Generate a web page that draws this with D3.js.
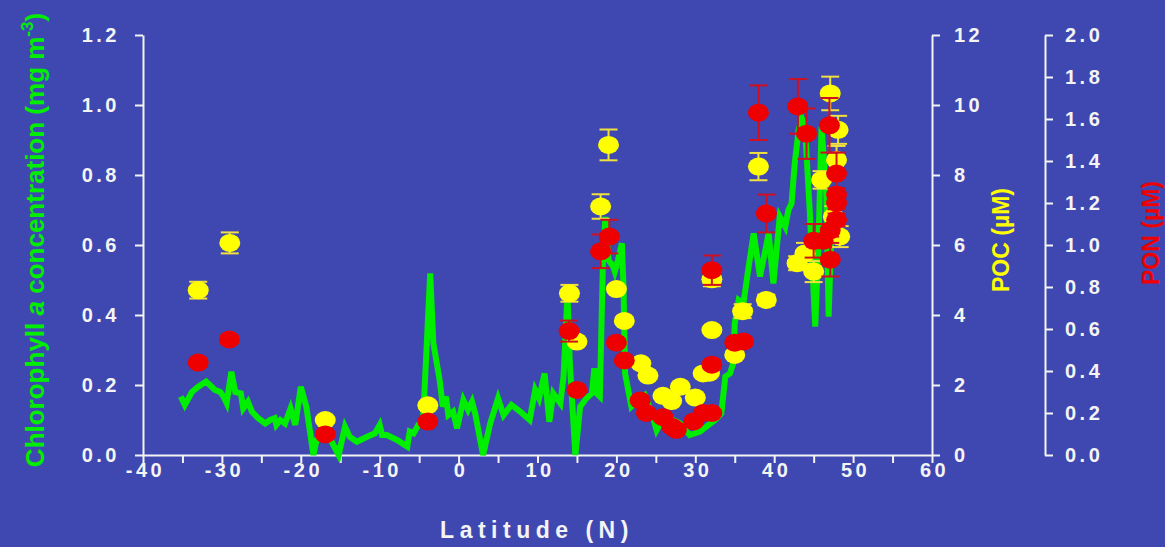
<!DOCTYPE html>
<html>
<head>
<meta charset="utf-8">
<script src="https://cdn.jsdelivr.net/npm/d3@7"></script>
<style>
  body { margin: 0; background: #3f48b0; }
  svg text { font-family: "Liberation Sans", Arial, sans-serif; font-weight: bold; }
</style>
</head>
<body>
<div class="chart"></div>
<script>
// chlorophyll a along the transect
const chlLat = [-35.2, -34.7, -33.8, -33.0, -32.0, -31.3, -30.9, -30.2, -29.8, -29.4, -28.8, -28.3, -27.6, -27.3, -26.7, -26.2,
  -25.4, -24.5, -23.9, -23.3, -23.1, -22.6, -22.0, -21.3, -20.7, -20.0, -19.3, -18.4, -18.0, -17.4, -16.6, -15.2, -14.4, -13.8,
  -12.9, -11.6, -10.6, -10.0, -9.7, -9.1, -7.8, -6.5, -6.2, -5.7, -5.1, -4.5, -3.6, -3.2, -2.4, -2.0, -1.6, -1.3, -0.7, -0.2,
  0.6, 1.2, 1.7, 2.1, 3.1, 4.0, 5.0, 5.7, 6.7, 7.8, 9.0, 9.7, 10.2, 10.9, 11.5, 12.0, 12.9, 13.3, 13.8, 14.1, 14.8, 15.4,
  16.2, 16.9, 17.2, 17.5, 17.9, 18.3, 18.6, 19.0, 19.6, 19.8, 20.2, 20.7, 20.9, 21.1, 21.9, 22.8, 23.6, 24.5, 25.1, 25.7,
  27.2, 28.1, 29.3, 30.6, 31.4, 32.5, 33.3, 33.8, 34.4, 34.8, 35.0, 35.5, 36.1, 36.7, 37.4, 38.2, 39.3, 39.9, 40.7, 41.4,
  41.8, 42.2, 42.6, 43.1, 43.5, 43.9, 44.5, 45.2, 45.6, 46.0, 46.6, 46.9, 47.3];
const chlVal = [0.167, 0.143, 0.18, 0.195, 0.21, 0.195, 0.186, 0.18, 0.167, 0.148, 0.238, 0.18, 0.176, 0.133, 0.152, 0.124,
  0.105, 0.09, 0.10, 0.105, 0.086, 0.10, 0.09, 0.133, 0.086, 0.195, 0.138, 0.0, 0.043, 0.07, 0.06, 0.0, 0.081, 0.052,
  0.038, 0.052, 0.062, 0.086, 0.057, 0.057, 0.043, 0.024, 0.067, 0.062, 0.086, 0.10, 0.519, 0.319, 0.214, 0.138, 0.167, 0.114, 0.124, 0.076,
  0.157, 0.129, 0.152, 0.119, 0.0, 0.09, 0.162, 0.114, 0.143, 0.124, 0.10, 0.186, 0.162, 0.233, 0.095, 0.176, 0.148, 0.224, 0.46, 0.262, 0.0, 0.138,
  0.162, 0.176, 0.248, 0.176, 0.167, 0.557, 0.68, 0.557, 0.538, 0.524, 0.557, 0.605, 0.48, 0.233, 0.138, 0.157, 0.171, 0.119, 0.071, 0.095,
  0.10, 0.09, 0.057, 0.067, 0.081, 0.10, 0.119, 0.224, 0.233, 0.262, 0.376, 0.443, 0.433, 0.529, 0.633, 0.51, 0.633, 0.49, 0.681, 0.652,
  0.70, 0.719, 0.833, 0.929, 0.962, 0.938, 0.70, 0.367, 0.595, 0.938, 0.748, 0.395, 0.671];

// POC (uM) with error
const pocLat = [-33.0, -29.0, -16.9, -3.9, 14.05, 15.0, 19.0, 18.0, 20.0, 21.0, 23.1, 24.0, 25.9, 27.0, 28.1, 30.0, 31.0, 31.8,
  32.1, 32.1, 36.0, 35.0, 39.0, 38.0, 47.1, 48.1, 46.0, 42.9, 43.9, 45.0, 48.3, 47.9, 47.5];
const pocVal = [4.71, 6.06, 1.0, 1.42, 4.62, 3.24, 8.86, 7.1, 4.74, 3.83, 2.62, 2.27, 1.69, 1.54, 1.95, 1.64, 2.33, 2.35,
  3.57, 5.02, 4.11, 2.86, 4.43, 8.24, 10.33, 9.29, 7.86, 5.48, 5.76, 5.24, 6.24, 8.43, 6.81];
const pocErr = [0.24, 0.3, 0, 0, 0.24, 0.1, 0.44, 0.35, 0.1, 0.1, 0, 0, 0, 0, 0, 0, 0, 0,
  0.1, 0.2, 0.2, 0.1, 0.15, 0.39, 0.48, 0.4, 0.25, 0.2, 0.3, 0.3, 0.3, 0.4, 0.3];

// PON (uM) with error
const ponLat = [-33.0, -29.05, -16.9, -3.9, 14.0, 15.0, 19.1, 18.0, 20.0, 21.0, 23.0, 23.8, 25.9, 27.0, 27.6, 29.8, 31.0,
  32.1, 32.1, 32.1, 35.0, 36.1, 38.0, 39.0, 43.0, 44.1, 47.0, 47.9, 47.9, 47.9, 47.9, 47.1, 45.0, 46.2, 47.1];
const ponVal = [0.44, 0.55, 0.098, 0.159, 0.59, 0.31, 1.04, 0.97, 0.535, 0.45, 0.26, 0.2, 0.18, 0.135, 0.12, 0.16, 0.2,
  0.2, 0.43, 0.88, 0.535, 0.54, 1.63, 1.15, 1.66, 1.53, 1.57, 1.34, 1.24, 1.2, 1.12, 1.07, 1.02, 1.02, 0.93];
const ponErr = [0.02, 0.02, 0, 0, 0.05, 0, 0.08, 0.08, 0, 0, 0, 0, 0, 0, 0, 0, 0,
  0, 0.02, 0.07, 0.02, 0.02, 0.13, 0.09, 0.13, 0.12, 0.13, 0.1, 0.03, 0.03, 0.03, 0.03, 0.08, 0.03, 0.08];

const xTicks = [-40, -30, -20, -10, 0, 10, 20, 30, 40, 50, 60];

const width = 1165, height = 547;
const bg = "#3f48b0", green = "#00ee00", yellow = "#ffff00", red = "#ee0000", ink = "#f4f4f4";

const svg = d3.select(".chart").append("svg")
  .attr("width", width)
  .attr("height", height);

svg.append("rect").attr("width", width).attr("height", height).attr("fill", bg);

const x = d3.scaleLinear().domain([-40, 60]).range([143, 932]);
const yChl = d3.scaleLinear().domain([0, 1.2]).range([455, 35]);
const yPoc = d3.scaleLinear().domain([0, 12]).range([455, 35]);
const yPon = d3.scaleLinear().domain([0, 2]).range([455, 35]);

const styleAxis = g => {
  g.select(".domain").attr("stroke", ink).attr("stroke-width", 2);
  g.selectAll(".tick line").attr("stroke", ink).attr("stroke-width", 2);
  g.selectAll(".tick text")
    .attr("fill", ink)
    .style("font-size", "20px")
    .style("letter-spacing", "3.5px");
};

// x axis
const gx = svg.append("g")
  .attr("transform", "translate(0,455)")
  .call(d3.axisBottom(x).tickValues(d3.range(-40, 61, 5)).tickSize(8).tickSizeOuter(0)
    .tickFormat(d => xTicks.includes(d) ? d : ""));
styleAxis(gx);
gx.selectAll(".tick text").attr("y", 8).attr("dy", "0.71em").attr("dx", "2px");

// left axis
const gl = svg.append("g")
  .attr("transform", "translate(143,0)")
  .call(d3.axisLeft(yChl).tickValues(d3.range(0, 1.21, 0.2)).tickSize(8).tickSizeOuter(0)
    .tickFormat(d3.format(".1f")));
styleAxis(gl);
gl.selectAll(".tick text").attr("x", -23);

// POC axis
const gp = svg.append("g")
  .attr("transform", "translate(932,0)")
  .call(d3.axisRight(yPoc).tickValues(d3.range(0, 13, 2)).tickSize(8).tickSizeOuter(0));
styleAxis(gp);
gp.selectAll(".tick text").attr("x", 22);

// PON axis
const gn = svg.append("g")
  .attr("transform", "translate(1045,0)")
  .call(d3.axisRight(yPon).tickValues(d3.range(0, 2.01, 0.2)).tickSize(8).tickSizeOuter(0)
    .tickFormat(d3.format(".1f")));
styleAxis(gn);
gn.selectAll(".tick text").attr("x", 20);

// chlorophyll line
const chl = chlLat.map((d, i) => ({ lat: d, v: chlVal[i] }));
svg.append("path")
  .datum(chl)
  .attr("fill", "none")
  .attr("stroke", green)
  .attr("stroke-width", 6)
  .attr("stroke-linejoin", "miter")
  .attr("d", d3.line().x(d => x(d.lat)).y(d => yChl(d.v)));

const drawPoints = (lat, val, err, yScale, color, barColor) => {
  const pts = lat.map((d, i) => ({ lat: d, v: val[i], e: err[i] }));
  const g = svg.append("g");
  const bars = g.selectAll("g.err").data(pts.filter(d => d.e > 0)).enter().append("g")
    .attr("stroke", barColor).attr("stroke-width", 2);
  bars.append("line")
    .attr("x1", d => x(d.lat)).attr("x2", d => x(d.lat))
    .attr("y1", d => yScale(d.v - d.e)).attr("y2", d => yScale(d.v + d.e));
  bars.append("line")
    .attr("x1", d => x(d.lat) - 9).attr("x2", d => x(d.lat) + 9)
    .attr("y1", d => yScale(d.v - d.e)).attr("y2", d => yScale(d.v - d.e));
  bars.append("line")
    .attr("x1", d => x(d.lat) - 9).attr("x2", d => x(d.lat) + 9)
    .attr("y1", d => yScale(d.v + d.e)).attr("y2", d => yScale(d.v + d.e));
  g.selectAll("ellipse").data(pts).enter().append("ellipse")
    .attr("cx", d => x(d.lat))
    .attr("cy", d => yScale(d.v))
    .attr("rx", 10.5)
    .attr("ry", 9)
    .attr("fill", color);
};

drawPoints(pocLat, pocVal, pocErr, yPoc, yellow, "#f0e040");
drawPoints(ponLat, ponVal, ponErr, yPon, red, "#d01020");

// titles
svg.append("text")
  .attr("transform", "translate(44,240) rotate(-90)")
  .attr("text-anchor", "middle")
  .attr("fill", green)
  .style("font-size", "26px")
  .call(t => {
    t.append("tspan").text("Chlorophyll ");
    t.append("tspan").style("font-style", "italic").text("a");
    t.append("tspan").text(" concentration (mg m");
    t.append("tspan").attr("dy", -11).style("font-size", "17px").text("-3");
    t.append("tspan").attr("dy", 11).text(")");
  });

svg.append("text")
  .attr("transform", "translate(1009,240) rotate(-90)")
  .attr("text-anchor", "middle")
  .attr("fill", yellow)
  .style("font-size", "23px")
  .text("POC (\u00b5M)");

svg.append("text")
  .attr("transform", "translate(1159,233) rotate(-90)")
  .attr("text-anchor", "middle")
  .attr("fill", red)
  .style("font-size", "23px")
  .text("PON (\u00b5M)");

svg.append("text")
  .attr("x", 537)
  .attr("y", 538)
  .attr("text-anchor", "middle")
  .attr("fill", ink)
  .style("font-size", "23px")
  .style("letter-spacing", "5.5px")
  .text("Latitude (N)");
</script>
</body>
</html>
